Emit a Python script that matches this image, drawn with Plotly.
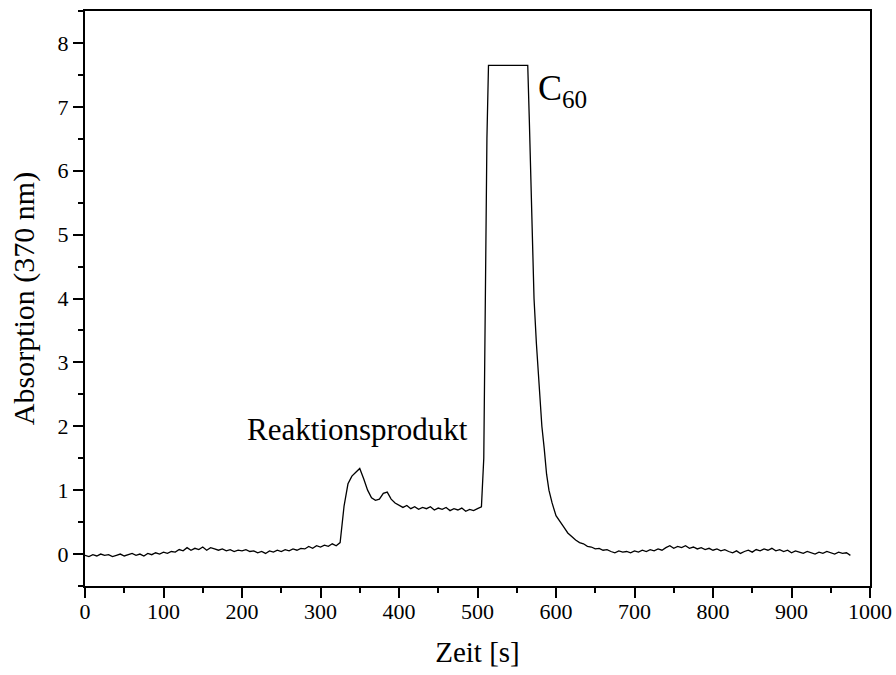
import plotly.graph_objects as go

# Time axis (s) and absorption at 370 nm
time_a = list(range(0, 506, 5))
absorb_a = [
    -0.02, -0.04, -0.01, -0.03, 0.00, -0.02, -0.01, -0.04, -0.02, 0.00,
    -0.03, -0.01, 0.01, -0.02, 0.00, -0.03, 0.01, -0.01, 0.02, 0.00,
    0.03, 0.01, 0.04, 0.03, 0.07, 0.05, 0.10, 0.06, 0.09, 0.07,
    0.11, 0.06, 0.10, 0.08, 0.06, 0.08, 0.05, 0.07, 0.04, 0.06,
    0.05, 0.07, 0.04, 0.05, 0.02, 0.04, 0.01, 0.05, 0.03, 0.06,
    0.04, 0.07, 0.05, 0.08, 0.06, 0.09, 0.08, 0.12, 0.09, 0.13,
    0.11, 0.14, 0.12, 0.16, 0.13, 0.18, 0.75, 1.10, 1.22, 1.28,
    1.34, 1.18, 1.00, 0.88, 0.84, 0.86, 0.95, 0.97, 0.86, 0.80,
    0.77, 0.73, 0.76, 0.71, 0.74, 0.70, 0.73, 0.71, 0.74, 0.69,
    0.72, 0.70, 0.73, 0.68, 0.71, 0.69, 0.72, 0.67, 0.70, 0.68,
    0.71, 0.74,
]
time_b = [508, 510, 512, 514, 520, 530, 540, 550, 560, 564, 566, 568, 570,
          572, 575, 578, 582, 585, 588, 591, 595]
absorb_b = [1.5, 4.0, 6.5, 7.65, 7.65, 7.65, 7.65, 7.65, 7.65, 7.65, 6.8, 5.7,
            4.7, 4.0, 3.3, 2.75, 2.0, 1.65, 1.25, 1.0, 0.80]
time_c = list(range(600, 976, 5))
absorb_c = [
    0.60, 0.50, 0.42, 0.33, 0.27, 0.22, 0.18, 0.16, 0.12, 0.11, 0.08, 0.09,
    0.06, 0.07,
    0.04, 0.02, 0.05, 0.03, 0.04, 0.02, 0.05, 0.03, 0.06, 0.04,
    0.07, 0.05, 0.08, 0.06, 0.10, 0.13, 0.09, 0.12, 0.10, 0.13,
    0.09, 0.11, 0.08, 0.10, 0.07, 0.09, 0.06, 0.08, 0.05, 0.07,
    0.04, 0.02, 0.05, 0.01, 0.04, 0.06, 0.03, 0.07, 0.05, 0.08,
    0.06, 0.09, 0.05, 0.07, 0.04, 0.06, 0.02, 0.05, 0.03, 0.01,
    0.04, 0.02, 0.00, 0.03, 0.01, 0.04, 0.02, 0.00, 0.03, 0.01,
    0.02, -0.02,
]

time_s = time_a + time_b + time_c
absorption = absorb_a + absorb_b + absorb_c

FONT = "'Liberation Serif', 'Times New Roman', serif"

fig = go.Figure()
fig.add_trace(go.Scatter(x=time_s, y=absorption, mode="lines",
                         line=dict(color="black", width=1.3),
                         showlegend=False, hoverinfo="skip"))

axis_common = dict(
    showline=True, linecolor="black", linewidth=2, mirror=True,
    ticks="outside", ticklen=10, tickwidth=2, tickcolor="black",
    showgrid=False, zeroline=False, automargin=False,
    tickfont=dict(family=FONT, size=22, color="black"),
)

fig.update_xaxes(
    range=[0, 1000], dtick=100, tick0=0, ticklabelstandoff=-5,
    minor=dict(ticks="outside", ticklen=5, tickwidth=2, tickcolor="black", dtick=50),
    title=dict(text="Zeit [s]", font=dict(family=FONT, size=29, color="black"), standoff=18),
    **axis_common,
)
fig.update_yaxes(
    range=[-0.5, 8.5], dtick=1, tick0=0,
    minor=dict(ticks="outside", ticklen=5, tickwidth=2, tickcolor="black", dtick=0.5),
    title=dict(text="Absorption (370 nm)", font=dict(family=FONT, size=30, color="black"), standoff=14),
    **axis_common,
)

fig.add_annotation(x=347, y=1.95, text="Reaktionsprodukt", showarrow=False,
                   font=dict(family=FONT, size=31, color="black"))
fig.add_annotation(x=575, y=7.25, text="C<sub>60</sub>", showarrow=False,
                   xanchor="left", font=dict(family=FONT, size=36, color="black"))

fig.update_layout(
    width=896, height=675,
    margin=dict(l=85, r=26, t=11, b=89),
    paper_bgcolor="white", plot_bgcolor="white",
)

fig.write_html("out.html")
